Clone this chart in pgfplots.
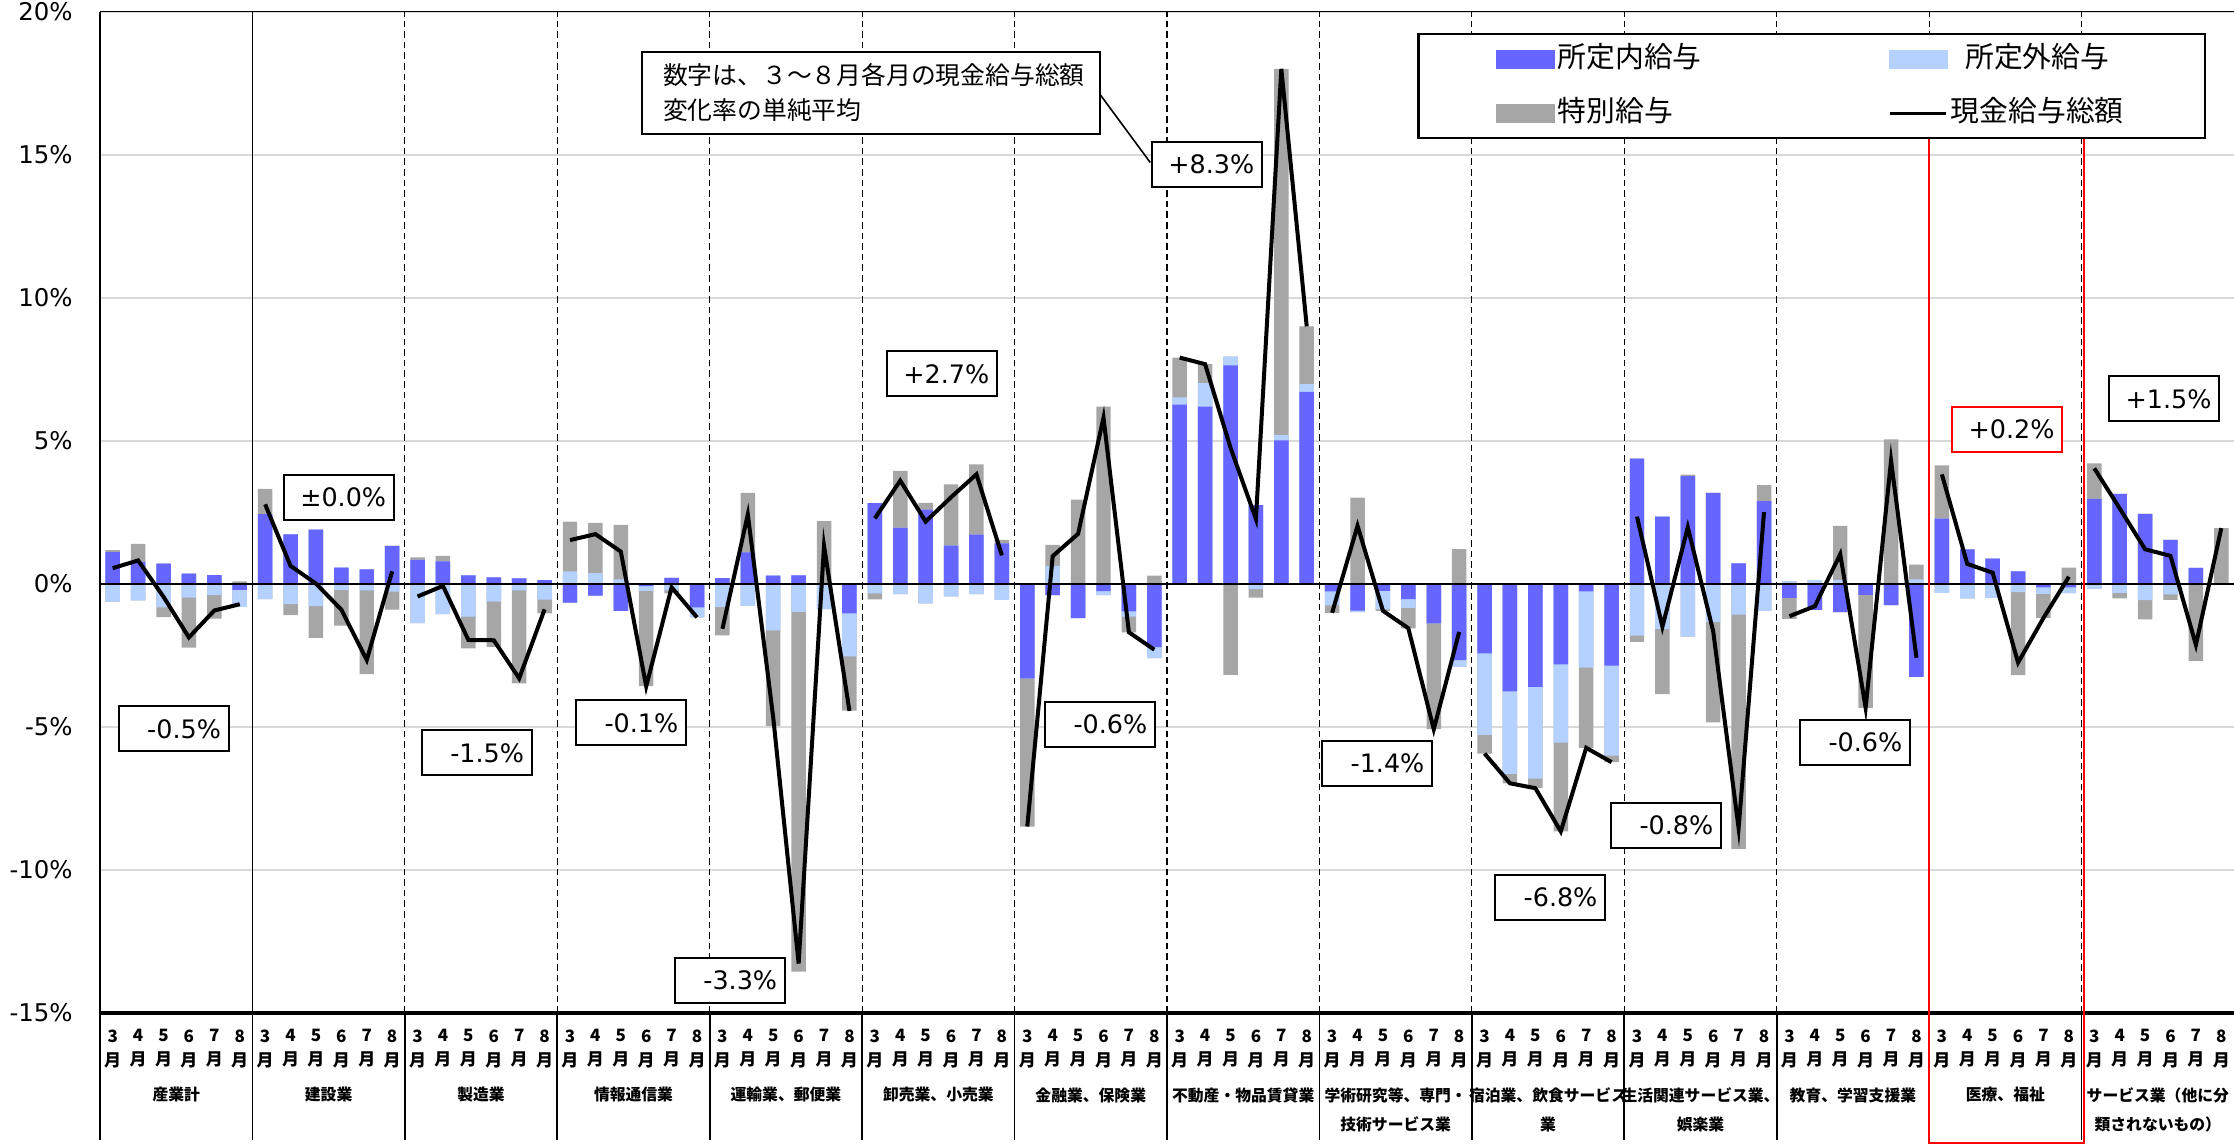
\documentclass[border=0pt]{standalone}
\usepackage{pgfplots}
\pgfplotsset{compat=1.18}
\usepackage{pgfplotstable}
\usepackage{fontspec}
\setmainfont{DejaVu Sans}
\newfontfamily\jp{Noto Sans CJK JP}

\definecolor{shoteinai}{RGB}{102,102,255}
\definecolor{shoteigai}{RGB}{180,209,255}
\definecolor{tokubetsu}{RGB}{166,166,166}
\definecolor{gridc}{RGB}{217,217,217}

% x = 6*group + month index (3..8 month -> 0..5)
% b = 所定内給与, l = 所定外給与, g = 特別給与, t = 現金給与総額 (%)
\pgfplotstableread{
x b l g t
0 1.11 -0.62 0.07 0.55
1 0.77 -0.58 0.63 0.82
2 0.71 -0.82 -0.34 -0.45
3 0.36 -0.48 -1.75 -1.87
4 0.31 -0.39 -0.82 -0.93
5 -0.21 -0.59 0.09 -0.71
6 2.44 -0.53 0.88 2.78
7 1.73 -0.71 -0.38 0.63
8 1.90 -0.78 -1.11 0.01
9 0.57 -0.22 -1.24 -0.90
10 0.51 -0.23 -2.92 -2.66
11 1.33 -0.27 -0.63 0.44
12 0.84 -1.37 0.09 -0.44
13 0.79 -1.06 0.19 -0.07
14 0.30 -1.14 -1.11 -1.96
15 0.23 -0.62 -1.58 -1.97
16 0.19 -0.23 -3.25 -3.30
17 0.13 -0.55 -0.48 -0.89
18 -0.65 0.44 1.74 1.53
19 -0.41 0.38 1.75 1.74
20 -0.94 0.16 1.90 1.13
21 -0.08 -0.16 -3.33 -3.58
22 0.21 -0.23 -0.10 -0.12
23 -0.82 -0.35 0.00 -1.17
24 0.20 -0.80 -1.00 -1.57
25 1.10 -0.77 2.08 2.43
26 0.29 -1.62 -3.34 -4.67
27 0.30 -0.98 -12.57 -13.27
28 0.00 -0.88 2.19 1.33
29 -1.03 -1.50 -1.90 -4.44
30 2.82 -0.33 -0.21 2.29
31 1.96 -0.36 1.99 3.61
32 2.60 -0.68 0.23 2.18
33 1.34 -0.44 2.14 3.03
34 1.72 -0.36 2.46 3.83
35 1.42 -0.56 0.12 1.00
36 -3.30 0.00 -5.18 -8.48
37 -0.39 0.63 0.73 0.97
38 -1.20 0.00 2.95 1.75
39 -0.25 -0.14 6.20 5.81
40 -0.96 -0.18 -0.55 -1.69
41 -2.21 -0.38 0.29 -2.30
42 6.27 0.25 1.39 7.91
43 6.20 0.82 0.66 7.68
44 7.64 0.30 -3.18 4.76
45 2.75 -0.18 -0.30 2.27
46 5.02 0.18 12.80 18.00
47 6.71 0.27 2.02 9.00
48 -0.26 -0.49 -0.26 -1.01
49 -0.93 -0.06 3.02 2.03
50 -0.24 -0.64 -0.06 -0.94
51 -0.53 -0.31 -0.71 -1.55
52 -1.38 0.00 -3.70 -5.08
53 -2.66 -0.24 1.22 -1.68
54 -2.43 -2.85 -0.65 -5.93
55 -3.76 -2.88 -0.33 -6.97
56 -3.60 -3.21 -0.33 -7.14
57 -2.81 -2.74 -3.10 -8.65
58 -0.26 -2.67 -2.80 -5.73
59 -2.86 -3.14 -0.23 -6.23
60 4.38 -1.81 -0.22 2.35
61 2.35 -1.57 -2.28 -1.50
62 3.77 -1.84 0.05 1.98
63 3.18 -1.34 -3.50 -1.66
64 0.72 -1.07 -8.19 -8.54
65 2.89 -0.94 0.56 2.51
66 -0.49 0.09 -0.73 -1.13
67 -0.91 0.13 0.00 -0.78
68 -0.99 0.14 1.89 1.04
69 -0.38 0.00 -3.95 -4.33
70 -0.74 0.00 5.05 4.31
71 -3.25 0.16 0.51 -2.58
72 2.28 -0.31 1.86 3.83
73 1.21 -0.51 0.00 0.70
74 0.88 -0.49 0.00 0.39
75 0.44 -0.29 -2.90 -2.75
76 -0.12 -0.23 -0.84 -1.19
77 -0.12 -0.20 0.57 0.25
78 2.97 -0.17 1.24 4.04
79 3.15 -0.31 -0.20 2.64
80 2.45 -0.57 -0.67 1.21
81 1.54 -0.37 -0.19 0.98
82 0.56 0.00 -2.69 -2.13
83 0.00 0.00 1.95 1.95
}\wage

\tikzset{
  ann/.style={draw=black, fill=white, line width=1pt, font=\fontsize{12.7}{15}\selectfont,
    minimum height=22.5pt, text width=47pt, align=right, inner xsep=4pt, inner ysep=0pt},
  glab/.style={anchor=north, inner sep=0pt, yshift=-37pt, align=center,
    font=\jp\bfseries\fontsize{7.9}{14.5}\selectfont},
  sep/.style={black, line width=0.6pt, dash pattern=on 3.3pt off 2pt},
}
\pgfplotsset{mybar/.style={ybar, bar width=0.57, bar shift=0pt, draw=none}}

\begin{document}
\begin{tikzpicture}
\begin{axis}[
  scale only axis, width=1067pt, height=500.65pt,
  xmin=-0.5, xmax=83.5, ymin=-15, ymax=20,
  clip=false,
  axis y line*=left,
  axis line style={black, line width=0.8pt},
  ytick={-15,-10,...,20},
  yticklabel={\pgfmathtruncatemacro\v{\tick}\v\%},
  yticklabel style={font=\fontsize{12.2}{15}\selectfont, inner sep=0pt, xshift=-13.5pt},
  ymajorgrids, major grid style={gridc, line width=0.9pt},
  xtick={0,...,83},
  xticklabel={\pgfmathtruncatemacro\mm{mod(round(\tick),6)+3}\mm\\月},
  xticklabel style={align=center, font=\jp\bfseries\fontsize{8.5}{12}\selectfont, inner sep=0pt, yshift=-8pt},
  major tick length=0pt,
  legend columns=2,
  legend style={at={(0.6172,0.9787)}, anchor=north west, draw=black, line width=1.2pt, fill=white,
    inner xsep=39pt, inner ysep=6pt, /tikz/row sep=14pt,
    font=\jp\fontsize{14.4}{16}\selectfont,
    nodes={inner xsep=1.5pt, inner ysep=0pt, text height=10.5pt, text depth=2.5pt}},
]
\addlegendimage{legend image code/.code={\fill[shoteinai] (0pt,-4.25pt) rectangle (28pt,4.25pt);}}
\addlegendentry{\makebox[164pt][l]{所定内給与}}
\addlegendimage{legend image code/.code={\fill[shoteigai] (0pt,-4.25pt) rectangle (28pt,4.25pt);}}
\addlegendentry{所定外給与}
\addlegendimage{legend image code/.code={\fill[tokubetsu] (0pt,-4.25pt) rectangle (28pt,4.25pt);}}
\addlegendentry{\makebox[164pt][l]{特別給与}}
\addlegendimage{legend image code/.code={\draw[black, line width=1.6pt] (0pt,0pt) -- (28pt,0pt);}}
\addlegendentry{現金給与総額}

% group separators
\draw[black, line width=0.9pt] (axis cs:5.5,-15) -- (axis cs:5.5,20);
\pgfplotsinvokeforeach{2,...,13}{
  \draw[sep] (axis cs:{6*#1-0.5},-15) -- (axis cs:{6*#1-0.5},20);
}
\pgfplotsinvokeforeach{0,...,13}{
  \draw[black, line width=0.9pt] (axis cs:{6*#1-0.5},-15) -- ([yshift=-63.5pt]axis cs:{6*#1-0.5},-15);
}

% positive parts stacked upwards, negative parts downwards
\addplot[mybar, fill=tokubetsu, forget plot] table[x=x, y expr={max(\thisrow{b},0)+max(\thisrow{l},0)+max(\thisrow{g},0)}]{\wage};
\addplot[mybar, fill=shoteigai, forget plot] table[x=x, y expr={max(\thisrow{b},0)+max(\thisrow{l},0)}]{\wage};
\addplot[mybar, fill=shoteinai, forget plot] table[x=x, y expr={max(\thisrow{b},0)}]{\wage};
\addplot[mybar, fill=tokubetsu, forget plot] table[x=x, y expr={min(\thisrow{b},0)+min(\thisrow{l},0)+min(\thisrow{g},0)}]{\wage};
\addplot[mybar, fill=shoteigai, forget plot] table[x=x, y expr={min(\thisrow{b},0)+min(\thisrow{l},0)}]{\wage};
\addplot[mybar, fill=shoteinai, forget plot] table[x=x, y expr={min(\thisrow{b},0)}]{\wage};

\draw[black, line width=1.4pt] (axis cs:-0.5,0) -- (axis cs:83.5,0);
\draw[black, line width=1.6pt] (axis cs:-0.5,-15) -- (axis cs:83.5,-15);

% total, one line for each industry
\pgfplotsinvokeforeach{0,...,13}{
  \addplot[black, line width=2pt, forget plot,
    x filter/.expression={(x>6*#1-0.6 && x<6*#1+5.6) ? x : nan}] table[x=x, y=t]{\wage};
}

% industry names
\node[glab] at (axis cs:2.5,-15) {産業計};
\node[glab] at (axis cs:8.5,-15) {建設業};
\node[glab] at (axis cs:14.5,-15) {製造業};
\node[glab] at (axis cs:20.5,-15) {情報通信業};
\node[glab] at (axis cs:26.5,-15) {運輸業、郵便業};
\node[glab] at (axis cs:32.5,-15) {卸売業、小売業};
\node[glab] at (axis cs:38.5,-15) {金融業、保険業};
\node[glab] at (axis cs:44.5,-15) {不動産・物品賃貸業};
\node[glab] at (axis cs:50.5,-15) {学術研究等、専門・\\技術サービス業};
\node[glab] at (axis cs:56.5,-15) {宿泊業、飲食サービス\\業};
\node[glab] at (axis cs:62.5,-15) {生活関連サービス業、\\娯楽業};
\node[glab] at (axis cs:68.5,-15) {教育、学習支援業};
\node[glab] at (axis cs:74.5,-15) {医療、福祉};
\node[glab] at (axis cs:80.5,-15) {サービス業（他に分\\類されないもの）};

% averages
\draw[black, line width=0.8pt] (axis cs:38.87,17.1) -- (axis cs:40.84,14.73);
\node[draw=black, fill=white, line width=1pt, align=left, text width=208pt, inner xsep=10.5pt,
  minimum height=41pt, font=\jp\fontsize{12.4}{17.3}\selectfont]
  at (axis cs:29.85,17.17) {数字は、３～８月各月の現金給与総額\\変化率の単純平均};
\node[ann] at (axis cs:2.41,-5.07) {-0.5\%};
\node[ann] at (axis cs:8.91,3.02) {±0.0\%};
\node[ann] at (axis cs:14.34,-5.91) {-1.5\%};
\node[ann] at (axis cs:20.41,-4.86) {-0.1\%};
\node[ann] at (axis cs:24.30,-13.85) {-3.3\%};
\node[ann] at (axis cs:32.65,7.34) {+2.7\%};
\node[ann] at (axis cs:38.87,-4.92) {-0.6\%};
\node[ann] at (axis cs:43.08,14.66) {+8.3\%};
\node[ann] at (axis cs:49.78,-6.28) {-1.4\%};
\node[ann] at (axis cs:56.59,-10.95) {-6.8\%};
\node[ann] at (axis cs:61.15,-8.44) {-0.8\%};
\node[ann] at (axis cs:68.59,-5.55) {-0.6\%};
\node[ann, draw=red] at (axis cs:74.58,5.39) {+0.2\%};
\node[ann] at (axis cs:80.76,6.47) {+1.5\%};

\draw[red, line width=1.3pt] (axis cs:71.49,15.6) rectangle ([yshift=-65pt]axis cs:77.6,-15);
\end{axis}
\pgfresetboundingbox
\path[use as bounding box] ([xshift=-50pt,yshift=-65.5pt]current axis.south west)
  rectangle ([yshift=5.85pt]current axis.north east);
\end{tikzpicture}
\end{document}
